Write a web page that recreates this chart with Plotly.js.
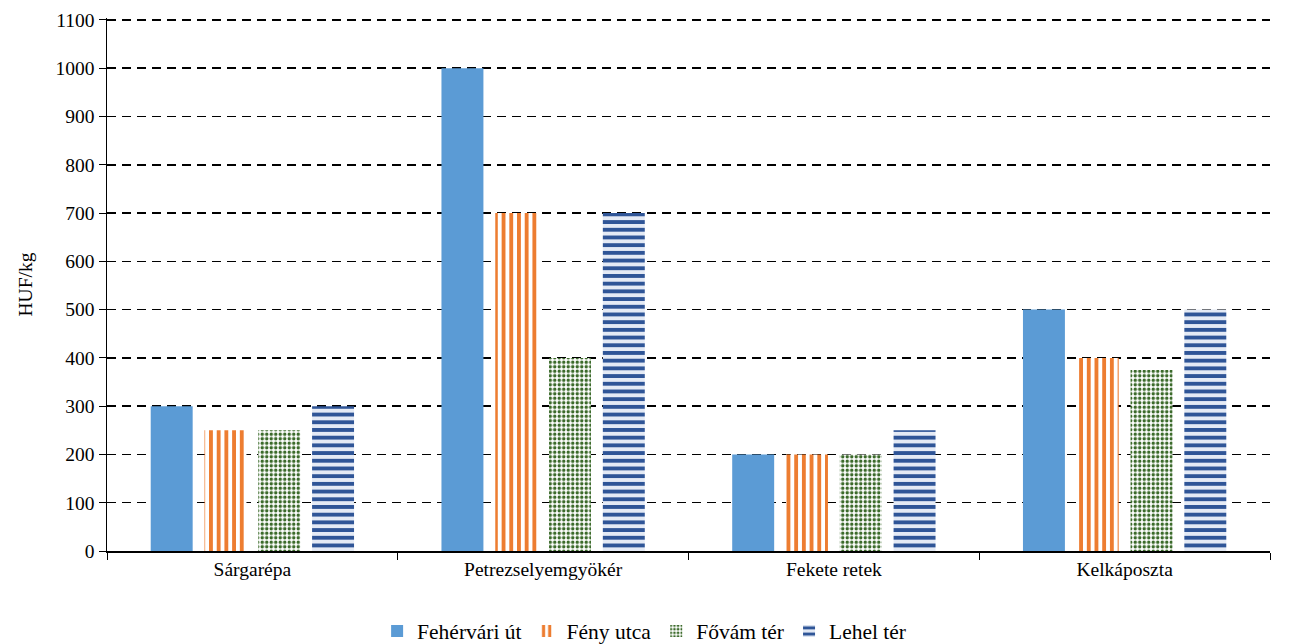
<!DOCTYPE html>
<html>
<head>
<meta charset="utf-8">
<script src="https://cdn.plot.ly/plotly-3.0.1.min.js"></script>
<style>html,body{margin:0;padding:0;background:#fff;}#chart{width:1296px;height:644px;}</style>
</head>
<body>
<div id="chart"></div>
<script>
const categories = ["Sárgarépa", "Petrezselyemgyökér", "Fekete retek", "Kelkáposzta"];
const seriesNames = ["Fehérvári út", "Fény utca", "Fővám tér", "Lehel tér"];
const fehervari = [300, 1000, 200, 500];
const fenyUtca = [250, 700, 200, 400];
const fovam = [250, 400, 200, 375];
const lehel = [300, 700, 250, 500];
const yTicks = [0, 100, 200, 300, 400, 500, 600, 700, 800, 900, 1000, 1100];

const FAM = "Liberation Serif";
const FS = 19.5;
const LFS = 21.5;
const font = {family: FAM, size: FS, color: "#000"};

const traces = [
  {type: "bar", name: seriesNames[0], x: categories, y: fehervari,
   marker: {color: "#5B9BD5", line: {width: 0}}},
  {type: "bar", name: seriesNames[1], x: categories, y: fenyUtca,
   marker: {color: "#ffffff", line: {width: 0},
            pattern: {shape: "|", fgcolor: "#ED7D31", bgcolor: "#ffffff", fgopacity: 1, size: 7.7, solidity: 0.5, fillmode: "replace"}}},
  {type: "bar", name: seriesNames[2], x: categories, y: fovam,
   marker: {color: "#ffffff", line: {width: 0},
            pattern: {shape: ".", fgcolor: "#3B6A2A", bgcolor: "#ffffff", fgopacity: 1, size: 4.5, solidity: 0.45, fillmode: "replace"}}},
  {type: "bar", name: seriesNames[3], x: categories, y: lehel,
   marker: {color: "#ffffff", line: {width: 0},
            pattern: {shape: "-", fgcolor: "#2F5597", bgcolor: "#E4EAF5", fgopacity: 1, size: 7.7, solidity: 0.5, fillmode: "replace"}}}
];

const layout = {
  width: 1296, height: 644,
  margin: {l: 107, r: 26, t: 18, b: 93},
  paper_bgcolor: "#fff", plot_bgcolor: "#fff",
  font: font,
  barmode: "group",
  bargap: 0.26,
  bargroupgap: 0.22,
  showlegend: true,
  legend: {orientation: "h", x: 0.497, xanchor: "center", xref: "container",
           y: 13 / 644, yanchor: "middle", yref: "container",
           font: {family: FAM, size: LFS, color: "#000"}, itemwidth: 30, traceorder: "normal"},
  xaxis: {
    type: "category",
    showline: true, linecolor: "#000", linewidth: 1.5,
    ticks: "outside", tickson: "boundaries", ticklen: 7, tickcolor: "#000", tickwidth: 1,
    showgrid: false,
    tickfont: {family: FAM, size: FS, color: "#000"},
    automargin: false
  },
  yaxis: {
    range: [0, 1104],
    tickvals: yTicks, ticktext: yTicks.map(String),
    showline: true, linecolor: "#000", linewidth: 1.5,
    ticks: "outside", ticklen: 7, tickcolor: "#000", tickwidth: 1,
    showgrid: true, gridcolor: "#000", gridwidth: 1.5, griddash: "9px,6px",
    zeroline: false,
    tickfont: {family: FAM, size: FS, color: "#000"},
    automargin: false,
    title: {text: "HUF/kg", font: {family: FAM, size: FS, color: "#000"}, standoff: 18}
  }
};

Plotly.newPlot("chart", traces, layout, {displayModeBar: false, staticPlot: true});
</script>
</body>
</html>
